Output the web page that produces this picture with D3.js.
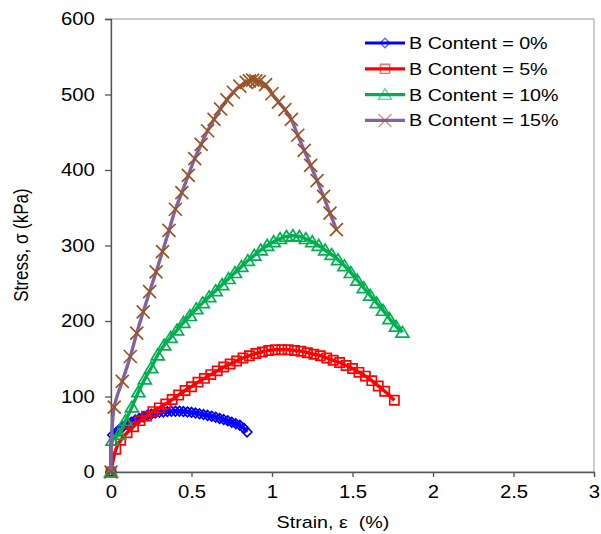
<!DOCTYPE html>
<html>
<head>
<meta charset="utf-8">
<script src="https://cdn.jsdelivr.net/npm/d3@7"></script>
<style>
  body { margin: 0; background: #fff; }
  text { font-family: "Liberation Sans", Arial, sans-serif; fill: #000; }
</style>
</head>
<body>
<div id="plot"></div>
<script>
// series names
var seriesNames = ["B Content = 0%", "B Content = 5%", "B Content = 10%", "B Content = 15%"];

// B = 0%
var strain0 = [0, 0.01, 0.03, 0.05, 0.075, 0.1, 0.125, 0.15, 0.175, 0.2, 0.225, 0.25, 0.275, 0.3, 0.325, 0.35, 0.375, 0.4, 0.425, 0.45, 0.475, 0.5, 0.525, 0.55, 0.575, 0.6, 0.625, 0.65, 0.675, 0.7, 0.725, 0.75, 0.775, 0.8, 0.825, 0.845];
var stress0 = [0, 49, 52, 56, 60, 63, 66, 69, 71, 73, 75, 76.5, 78, 79, 79.5, 80, 80.5, 80.5, 80.5, 80, 79.5, 79, 78, 77, 76, 75, 74, 72.5, 71, 69.5, 68, 66, 64, 62, 58, 53];

// B = 5%
var strain5 = [0, 0.03, 0.06, 0.1, 0.14, 0.18, 0.22, 0.26, 0.3, 0.34, 0.38, 0.42, 0.46, 0.5, 0.54, 0.58, 0.62, 0.66, 0.7, 0.74, 0.78, 0.82, 0.86, 0.9, 0.94, 0.98, 1.02, 1.06, 1.1, 1.14, 1.18, 1.22, 1.26, 1.3, 1.34, 1.38, 1.42, 1.46, 1.5, 1.54, 1.58, 1.62, 1.66, 1.7, 1.76];
var stress5 = [0, 30, 42, 52, 60, 68, 74, 80, 85, 90, 96, 102, 108, 113, 119, 124, 129, 134, 139, 143, 147, 151, 154, 157, 159, 161, 162, 162, 162, 161, 160, 158, 156, 154, 151, 148, 145, 141, 137, 132, 127, 121, 114, 107, 95];

// B = 10%
var strain10 = [0, 0.01, 0.05, 0.09, 0.13, 0.17, 0.21, 0.25, 0.29, 0.33, 0.37, 0.41, 0.45, 0.49, 0.53, 0.57, 0.61, 0.65, 0.69, 0.73, 0.77, 0.81, 0.85, 0.89, 0.93, 0.97, 1.01, 1.05, 1.09, 1.13, 1.17, 1.21, 1.25, 1.29, 1.33, 1.37, 1.41, 1.45, 1.49, 1.53, 1.57, 1.61, 1.65, 1.69, 1.73, 1.77, 1.81];
var stress10 = [0, 42, 50, 68, 86, 106, 123, 138, 155, 168, 178, 188, 198, 207, 216, 224, 232, 240, 248, 256, 264, 272, 280, 287, 294, 300, 305, 309, 312, 313, 312, 309, 305, 300, 294, 288, 281, 273, 264, 254, 244, 234, 224, 214, 203, 193, 185];

// B = 15%
var strain15 = [0, 0.02, 0.07, 0.12, 0.16, 0.2, 0.24, 0.28, 0.32, 0.36, 0.4, 0.44, 0.48, 0.52, 0.56, 0.6, 0.64, 0.68, 0.72, 0.76, 0.8, 0.84, 0.86, 0.88, 0.9, 0.92, 0.96, 1.0, 1.04, 1.08, 1.12, 1.16, 1.2, 1.24, 1.28, 1.32, 1.36, 1.4];
var stress15 = [0, 86, 120, 153, 184, 212, 239, 265, 292, 320, 348, 370, 393, 415, 434, 452, 467, 481, 493, 503, 511, 516, 518, 519, 518, 517, 513, 501, 490, 480, 467, 446, 426, 406, 386, 365, 343, 321];

var xTicks = [0, 0.5, 1, 1.5, 2, 2.5, 3];
var yTicks = [0, 100, 200, 300, 400, 500, 600];

function drawChart() {
  var W = 601, H = 534;
  var pLeft = 111, pRight = 594, pTop = 19, pBottom = 472;
  var stretch = 1.16;

  var x = d3.scaleLinear().domain([0, 3]).range([pLeft, pRight]);
  var y = d3.scaleLinear().domain([0, 600]).range([pBottom, pTop]);

  var svg = d3.select("#plot").append("svg")
    .attr("width", W)
    .attr("height", H);

  // frame
  svg.append("rect")
    .attr("x", pLeft).attr("y", pTop)
    .attr("width", pRight - pLeft).attr("height", pBottom - pTop)
    .attr("fill", "none").attr("stroke", "#9a9a9a").attr("stroke-width", 1);

  var xAxis = svg.append("g")
    .attr("transform", "translate(0," + pBottom + ")")
    .call(d3.axisBottom(x).tickValues(xTicks).tickSize(5).tickPadding(9).tickFormat(d3.format("")));
  var yAxis = svg.append("g")
    .attr("transform", "translate(" + pLeft + ",0)")
    .call(d3.axisLeft(y).tickValues(yTicks).tickSize(6).tickPadding(8));

  [xAxis, yAxis].forEach(function(ax) {
    ax.select(".domain").attr("stroke", "#555").attr("stroke-width", 1.3);
    ax.selectAll(".tick line").attr("stroke", "#555").attr("stroke-width", 1.3);
    ax.selectAll(".tick text")
      .attr("font-size", 17.5)
      .attr("font-family", "Liberation Sans, Arial, sans-serif")
      .attr("fill", "#000");
  });
  xAxis.selectAll(".tick text").attr("transform", "scale(" + stretch + ",1)");
  yAxis.selectAll(".tick text").attr("transform", "scale(" + stretch + ",1)");

  // axis titles
  svg.append("text")
    .attr("text-anchor", "middle")
    .attr("font-size", 17)
    .attr("transform", "translate(333,528) scale(" + stretch + ",1)")
    .style("white-space", "pre")
    .text("Strain, ε  (%)");
  svg.append("text")
    .attr("text-anchor", "middle")
    .attr("font-size", 17)
    .attr("transform", "translate(28,245) rotate(-90) scale(1," + stretch + ")")
    .text("Stress, σ (kPa)");

  var series = [
    { name: seriesNames[0], xs: strain0, ys: stress0, line: "#0000ff", mark: "#0000ff", shape: "diamond" },
    { name: seriesNames[1], xs: strain5, ys: stress5, line: "#ff0000", mark: "#ff0000", shape: "square" },
    { name: seriesNames[2], xs: strain10, ys: stress10, line: "#00b050", mark: "#00b050", shape: "triangle" },
    { name: seriesNames[3], xs: strain15, ys: stress15, line: "#8064a2", mark: "#9c5320", shape: "cross" }
  ];

  function markerPath(shape) {
    if (shape === "diamond") return "M0,-4.8L4.8,0L0,4.8L-4.8,0Z";
    if (shape === "square") return "M-4.6,-4.6H4.6V4.6H-4.6Z";
    if (shape === "triangle") return "M0,-6L6.5,4.8H-6.5Z";
    return "M-6.5,-6.5L6.5,6.5M6.5,-6.5L-6.5,6.5";
  }

  var line = d3.line()
    .x(function(d) { return x(d[0]); })
    .y(function(d) { return y(d[1]); })
    .curve(d3.curveCatmullRom.alpha(0.5));

  series.forEach(function(s) {
    var pts = s.xs.map(function(v, i) { return [v, s.ys[i]]; });
    var g = svg.append("g");
    g.append("path")
      .datum(pts)
      .attr("d", line)
      .attr("fill", "none")
      .attr("stroke", s.line)
      .attr("stroke-width", 3.4);
    g.selectAll("path.m")
      .data(pts)
      .enter()
      .append("path")
      .attr("class", "m")
      .attr("d", markerPath(s.shape))
      .attr("transform", function(d) { return "translate(" + x(d[0]) + "," + y(d[1]) + ")"; })
      .attr("fill", "none")
      .attr("stroke", s.mark)
      .attr("stroke-width", 1.7);
  });

  // legend
  var legend = svg.append("g");
  series.forEach(function(s, i) {
    var ly = 43 + i * 25.8;
    legend.append("line")
      .attr("x1", 365).attr("x2", 405)
      .attr("y1", ly).attr("y2", ly)
      .attr("stroke", s.line).attr("stroke-width", 3.2);
    legend.append("path")
      .attr("d", markerPath(s.shape))
      .attr("transform", "translate(385," + ly + ")")
      .attr("fill", "none")
      .attr("stroke", s.mark)
      .attr("stroke-opacity", 0.6)
      .attr("stroke-width", 1.4);
    legend.append("text")
      .attr("font-size", 17)
      .attr("transform", "translate(409," + (ly + 6) + ") scale(" + stretch + ",1)")
      .text(s.name);
  });
}

drawChart();
</script>
</body>
</html>
